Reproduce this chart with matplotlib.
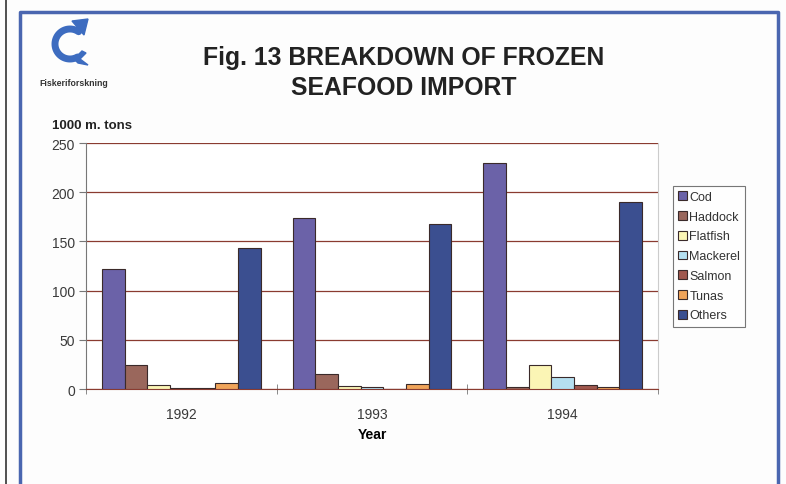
import matplotlib
matplotlib.use("Agg")
import matplotlib.pyplot as plt
import numpy as np
from matplotlib.patches import Polygon
from matplotlib.lines import Line2D

years = ["1992", "1993", "1994"]
species = ["Cod", "Haddock", "Flatfish", "Mackerel", "Salmon", "Tunas", "Others"]
cod = [122, 174, 230]
haddock = [24, 15, 2]
flatfish = [4, 3, 24]
mackerel = [1.5, 2, 12]
salmon = [1.5, 0.5, 4]
tunas = [6, 5, 2.5]
others = [143, 168, 190]
series = [cod, haddock, flatfish, mackerel, salmon, tunas, others]
colors = ["#6b62a8", "#9a675c", "#fbf5b5", "#b5dff0", "#a0584e", "#f0a45a", "#3b4f90"]
yticks = [0, 50, 100, 150, 200, 250]

W, H = 786, 485
fig = plt.figure(figsize=(7.86, 4.85), dpi=100)
fig.patch.set_facecolor("#fdfdfd")

def px(xs, ys):
    return [v / W for v in xs], [1 - v / H for v in ys]

# frame lines
fig.add_artist(Line2D(*px([6, 6], [0, H]), color="#333333", lw=1.2))
fig.add_artist(Line2D(*px([20, 20, 778, 778], [H, 13, 13, H]), color="#4a66b0", lw=2.5))

ax = fig.add_axes([86/W, 1-390/H, 572/W, 246/H])
ax.set_facecolor("white")
x = np.arange(len(years))
w = 1/8.4
for i, (name, vals, c) in enumerate(zip(species, series, colors)):
    ax.bar(x + (i-3)*w, vals, width=w, color=c, edgecolor="#3a2a2a", linewidth=0.8,
           label=name, zorder=3)

ax.set_xlim(-0.5, 2.5)
ax.set_ylim(0, 250)
ax.set_yticks(yticks)
ax.set_yticklabels([str(t) for t in yticks], fontsize=10, color="#3a3a3a", family="Liberation Sans")
ax.yaxis.grid(True, color="#8a3b30", lw=0.9, zorder=0)
ax.set_xticks(x)
ax.set_xticklabels(years, fontsize=10, color="#3a3a3a", family="Liberation Sans")
ax.tick_params(axis="x", length=0, pad=13)
ax.set_xticks([-0.5, 0.5, 1.5, 2.5], minor=True)
ax.tick_params(axis="x", which="minor", length=7, direction="inout", color="#777777")
ax.tick_params(axis="y", length=5, direction="out", color="#777777", pad=3)
ax.spines["top"].set_visible(False)
ax.spines["left"].set_color("#777777")
ax.spines["bottom"].set_color("#8a3b30")
ax.spines["right"].set_color("#cccccc")
ax.spines["right"].set_linewidth(0.8)

ax.set_xlabel("Year", fontsize=10, fontweight="bold", family="Liberation Sans", labelpad=4)

fig.text(52/W, 1-126/H, "1000 m. tons", fontsize=9.5, fontweight="bold",
         family="Liberation Sans", va="center", ha="left", color="#222222")

fig.text(404/W, 1-58/H, "Fig. 13 BREAKDOWN OF FROZEN", fontsize=17.8, fontweight="bold",
         family="Liberation Sans", ha="center", va="center", color="#222222")
fig.text(404/W, 1-88/H, "SEAFOOD IMPORT", fontsize=17.8, fontweight="bold",
         family="Liberation Sans", ha="center", va="center", color="#222222")

# logo: curved fish
t = np.linspace(np.radians(55), np.radians(300), 60)
cx, cy, r = 70, 45, 15
lx = cx + r * np.cos(t)
ly = cy - r * np.sin(t)
fig.add_artist(Line2D(*px(lx, ly), color="#3d6cc0", lw=5, solid_capstyle="round"))
hx, hy = px([72, 88, 84], [22, 20, 36])
fig.add_artist(Polygon(list(zip(hx, hy)), closed=True, transform=fig.transFigure,
                       color="#3d6cc0"))
tx, ty = px([74, 82, 86, 80, 88, 78], [60, 52, 54, 60, 66, 64])
fig.add_artist(Polygon(list(zip(tx, ty)), closed=True, transform=fig.transFigure,
                       color="#3d6cc0"))
fig.text(74/W, 1-84/H, "Fiskeriforskning", fontsize=6.3, fontweight="bold",
         family="Liberation Sans", ha="center", va="center", color="#333333")

leg = fig.legend(loc="upper left", bbox_to_anchor=(673/W, 1-187/H),
                 frameon=True, fancybox=False, edgecolor="#555555", handlelength=0.7,
                 handleheight=0.7, handletextpad=0.2, labelspacing=0.62, borderpad=0.4,
                 borderaxespad=0, prop={"family": "Liberation Sans", "size": 9})
leg.get_frame().set_linewidth(0.8)
for tt in leg.get_texts():
    tt.set_color("#333333")

fig.savefig("out.png", dpi=100, facecolor=fig.get_facecolor())
